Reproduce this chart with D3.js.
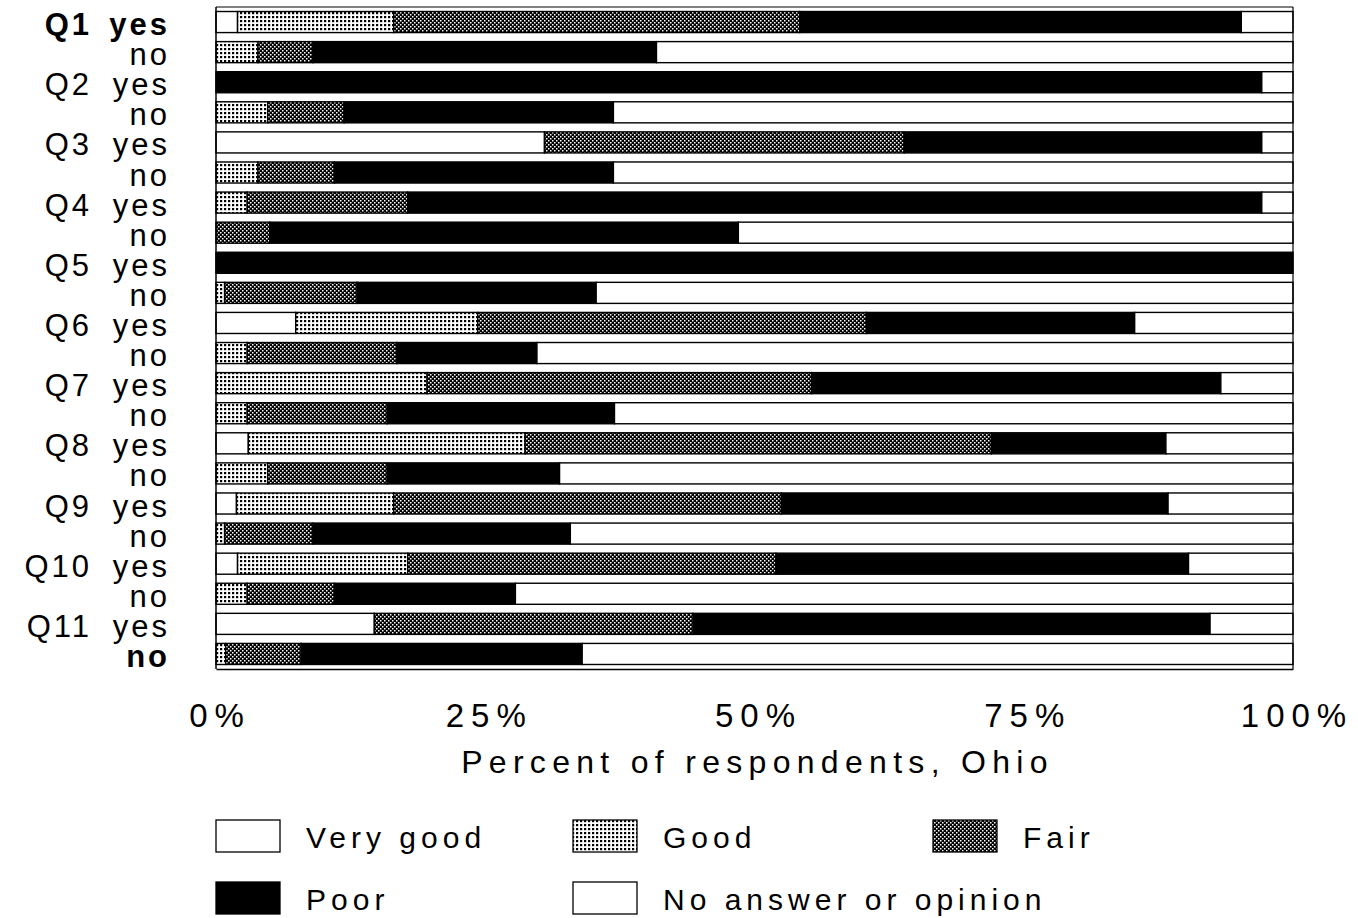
<!DOCTYPE html>
<html><head><meta charset="utf-8">
<script src="https://cdn.jsdelivr.net/npm/d3@7"></script>
<style>body{margin:0;background:#fff}</style>
</head><body>
<svg id="c" width="1358" height="918"></svg>
<script>
const questions = ["Q1","Q2","Q3","Q4","Q5","Q6","Q7","Q8","Q9","Q10","Q11"];
const answers = ["yes","no"];
const categories = ["Very good","Good","Fair","Poor","No answer or opinion"];
// percent per row, order: Q1 yes, Q1 no, Q2 yes, ...
const veryGood = [2.0,0, 0,0, 30.5,0, 0,0, 0,0, 7.4,0, 0,0, 3.0,0, 1.9,0, 2.0,0, 14.7,0];
const good     = [14.5,3.9, 0,4.8, 0,3.9, 2.9,0, 0,0.8, 16.9,2.9, 19.6,2.9, 25.7,4.8, 14.6,0.8, 15.8,2.9, 0,0.9];
const fair     = [37.7,5.1, 0,7.1, 33.4,7.1, 14.9,5.0, 0,12.3, 36.1,13.9, 35.7,13.0, 43.3,11.1, 36.0,8.2, 34.2,8.1, 29.6,7.0];
const poor     = [41.0,31.9, 97.1,25.0, 33.2,25.9, 79.3,43.5, 100,22.2, 24.9,13.0, 38.0,21.1, 16.2,16.0, 35.9,23.9, 38.3,16.8, 48.0,26.1];
const ticks = [0,25,50,75,100];
const tickLabels = ["0%","25%","50%","75%","100%"];
const boldRows = ["Q1 yes","Q11 no"];

const rows = [];
questions.forEach(q => answers.forEach(a => rows.push(q + " " + a)));
const table = rows.map((r,i) => {
  const vals = [veryGood[i], good[i], fair[i], poor[i]];
  const sum = vals.reduce((s,v)=>s+v,0);
  vals.push(Math.max(0, 100 - sum));
  return {row:r, q:r.split(" ")[0], a:r.split(" ")[1], vals};
});

const svg = d3.select("#c");
const defs = svg.append("defs");
const pg = defs.append("pattern").attr("id","pGood").attr("patternUnits","userSpaceOnUse").attr("width",4).attr("height",4);
pg.append("rect").attr("width",4).attr("height",4).attr("fill","#fff");
pg.append("rect").attr("x",0).attr("y",0).attr("width",2.2).attr("height",2.2).attr("fill","#000");
const pf = defs.append("pattern").attr("id","pFair").attr("patternUnits","userSpaceOnUse").attr("width",4).attr("height",4);
pf.append("rect").attr("width",4).attr("height",4).attr("fill","#000");
pf.append("rect").attr("x",0).attr("y",0).attr("width",1.5).attr("height",1.5).attr("fill","#fff");
pf.append("rect").attr("x",2).attr("y",2).attr("width",1.5).attr("height",1.5).attr("fill","#fff");

const fills = ["#fff","url(#pGood)","url(#pFair)","#000","#fff"];
const color = d3.scaleOrdinal().domain(categories).range(fills);

const x = d3.scaleLinear().domain([0,100]).range([216,1293]);
const y = d3.scaleBand().domain(rows).range([7,669]).paddingInner(0.3).paddingOuter(0.15);

const stack = d3.stack().keys(d3.range(5)).value((d,k)=>d.vals[k]);
const series = stack(table);

const g = svg.append("g");
series.forEach((s,k) => {
  g.selectAll(null).data(s.filter(d => d[1]-d[0] > 0.01)).join("rect")
    .attr("x", d => x(d[0]))
    .attr("width", d => x(d[1]) - x(d[0]))
    .attr("y", d => y(d.data.row))
    .attr("height", y.bandwidth())
    .attr("fill", color(categories[k]))
    .attr("stroke","#000").attr("stroke-width",1.4);
});

// frame lines
svg.append("line").attr("x1",216).attr("x2",216).attr("y1",7).attr("y2",669).attr("stroke","#000").attr("stroke-width",1.5);
svg.append("line").attr("x1",1293).attr("x2",1293).attr("y1",7).attr("y2",669).attr("stroke","#000").attr("stroke-width",1.2);
svg.append("line").attr("x1",216).attr("x2",1293).attr("y1",7).attr("y2",7).attr("stroke","#000").attr("stroke-width",1);

const axis = svg.append("g").attr("transform","translate(0,669)")
  .call(d3.axisBottom(x).tickValues(ticks).tickFormat((d,i)=>tickLabels[i]).tickSize(0).tickPadding(0));
axis.select(".domain").attr("stroke","#000").attr("stroke-width",1.5);
axis.selectAll("text").attr("font-family","Liberation Sans, Arial, sans-serif").attr("font-size",33)
  .attr("fill","#000").attr("letter-spacing","7px").attr("dy",null).attr("y",58).attr("dx","3.5px");

svg.append("text").attr("x",(x(0)+x(100))/2 + 3).attr("y",773).attr("text-anchor","middle")
  .attr("font-family","Liberation Sans, Arial, sans-serif").attr("font-size",32).attr("letter-spacing","6.3px")
  .text("Percent of respondents, Ohio");

// row labels
const lab = svg.append("g").attr("font-family","Liberation Sans, Arial, sans-serif").attr("font-size",31).attr("fill","#000");
table.forEach(d => {
  const cy = y(d.row) + y.bandwidth()/2 + 13;
  const bold = boldRows.includes(d.row) ? "bold" : "normal";
  lab.append("text").attr("x",167+3).attr("y",cy).attr("text-anchor","end").attr("letter-spacing","3px")
    .attr("font-weight",bold).text(d.a);
  if (d.a === "yes") {
    lab.append("text").attr("x",89+3).attr("y",cy).attr("text-anchor","end").attr("letter-spacing","3px")
      .attr("font-weight",bold).text(d.q);
  }
});

// legend
const legendPos = [[216,820],[573,820],[933,820],[216,882],[573,882]];
const leg = svg.append("g");
categories.forEach((c,i) => {
  const [lx,ly] = legendPos[i];
  leg.append("rect").attr("x",lx).attr("y",ly).attr("width",64).attr("height",32)
    .attr("fill",color(c)).attr("stroke","#000").attr("stroke-width",1.3);
  leg.append("text").attr("x",lx+90).attr("y",ly+28).attr("font-family","Liberation Sans, Arial, sans-serif")
    .attr("font-size",30).attr("letter-spacing","5px").text(c);
});
</script>
</body></html>
